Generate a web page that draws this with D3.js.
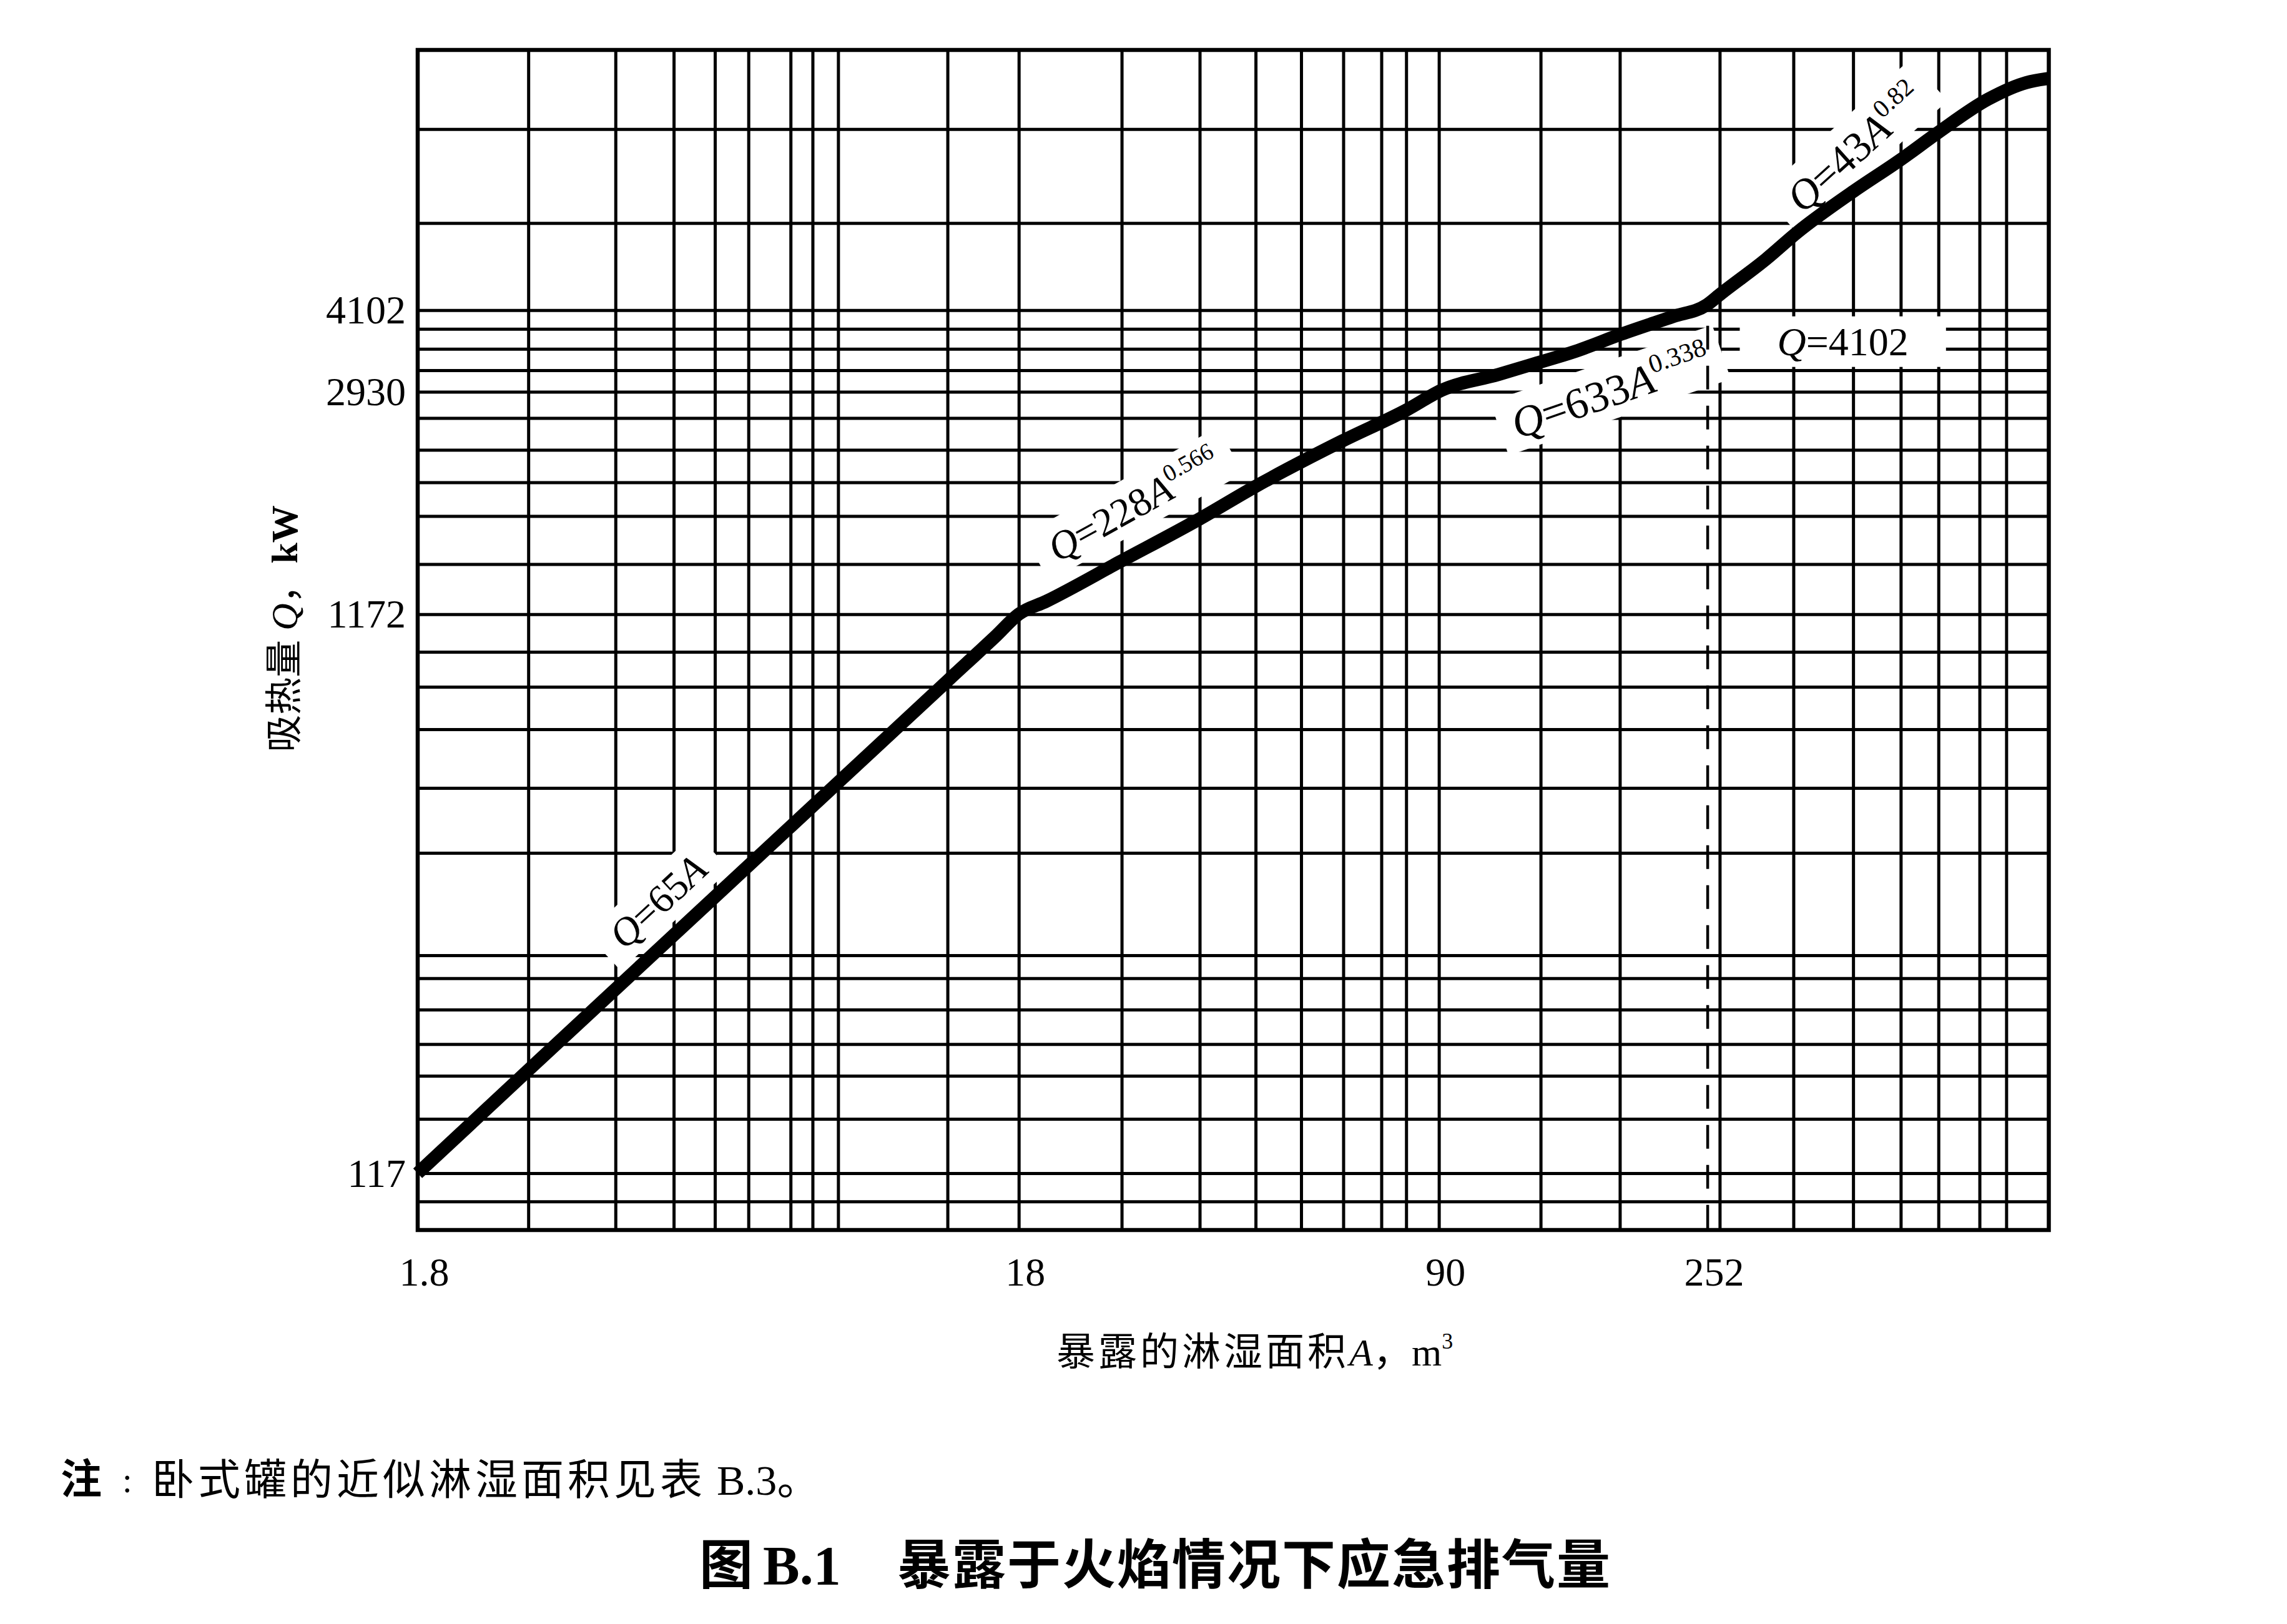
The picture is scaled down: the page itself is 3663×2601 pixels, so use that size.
<!DOCTYPE html>
<html>
<head>
<meta charset="utf-8">
<script src="https://cdn.jsdelivr.net/npm/d3@7/dist/d3.min.js"></script>
<style>
html,body{margin:0;padding:0;background:#fff;}
svg{display:block;}
</style>
</head>
<body>
<svg id="chart" width="3663" height="2601"></svg>
<script>
// ================= DATA =================
// curve: exposed wetted area A vs heat input Q (kW)
const areaA = [1.8, 2.75, 9.0, 13.8, 16.5, 18, 20, 26.5, 36, 44.5, 62.3, 79.5, 91, 113, 131, 151.5, 181, 221, 251, 265, 315, 355, 441, 527, 610, 738, 854, 919, 931];
const heatQ = [117, 179, 585, 897, 1072, 1172, 1236, 1454, 1736, 1982, 2396, 2719, 2950, 3147, 3300, 3460, 3716, 3998, 4190, 4389, 5060, 5650, 6700, 7620, 8540, 9790, 10480, 10640, 10660];

// labelled ticks
const xTickValues = [1.8, 18, 90, 252];
const yTickValues = [117, 1172, 2930, 4102];

// grid lines of the log paper (values)
const xGridValues = [2.75, 3.84, 4.8, 5.62, 6.39, 7.51, 8.17, 9.01, 13.7, 18,
                     26.7, 36, 44.6, 53.1, 62.4, 72.2, 79.4, 90, 132.9, 180,
                     263.9, 350, 440, 528, 610, 714, 791];
const yGridValues = [104.2, 117, 146.4, 174.8, 199.3, 229.7, 261.3, 287.3, 438.2, 572.6,
                     729.4, 869, 1003.6, 1172, 1440, 1756, 2018, 2307, 2630, 2930,
                     3203, 3497, 3798, 4102, 5875, 8653];

// axis extents
const xDomain = [1.8, 931];
const yDomain = [92.6, 11990];

// dashed reference line
const dashA = [252];
const dashQ = [4102];

// equation annotations: text parts + data anchor
const eqTexts = [
  [["Q","i"],["=65",""],["A","i"]],
  [["Q","i"],["=228",""],["A","i"],["0.566","sup"]],
  [["Q","i"],["=633",""],["A","i"],["0.338","sup"]],
  [["Q","i"],["=43",""],["A","i"],["0.82","sup"]],
  [["Q","i"],["=4102",""]]
];
const eqAnchorA = [4.52, 28.0, 174, 444, 423];
const eqAnchorQ = [358, 1835, 2930, 8000, 3600];

// texts
const yTitleParts = [["吸热量 ",""],["Q","i"],["，",""],["kW","b"]];
const xTitleParts = [["暴露的淋湿面积","c"],["A","i"],["，",""],["m","m"],["3","sup"]];
const noteHead = "注";
const noteBody = "卧式罐的近似淋湿面积见表";
const noteRef = " B.3";
const noteEnd = "。";
const titleFig = "图";
const titleNum = "B.1";
const titleText = "暴露于火焰情况下应急排气量";

// ================= DRAWING =================
const W = 3663, H = 2601;
const L = 669, R = 3281.5, T = 80, B = 1970;
const SERIF = "'Liberation Serif','Times New Roman','Noto Sans CJK SC',serif";
const SANS = "'Noto Sans CJK SC','Noto Sans',sans-serif";
const INK = "#000";

const svg = d3.select("#chart");
svg.append("rect").attr("width", W).attr("height", H).attr("fill", "#fff");

const x = d3.scaleLog().domain(xDomain).range([L, R]);
const y = d3.scaleLog().domain(yDomain).range([B, T]);

// layers
const gGrid = svg.append("g");
const gBox = svg.append("g");
const gDash = svg.append("g");
const gBorder = svg.append("g");
const gCurve = svg.append("g");
const gText = svg.append("g");

// vertical grid via axis
const vAxis = gGrid.append("g").attr("transform", `translate(0,${B})`)
  .call(d3.axisBottom(x).tickValues(xGridValues).tickSize(-(B - T)).tickFormat(""));
vAxis.select(".domain").remove();
vAxis.selectAll("line").attr("stroke", INK).attr("stroke-width", 5);

// horizontal grid via axis
const hAxis = gGrid.append("g").attr("transform", `translate(${L},0)`)
  .call(d3.axisLeft(y).tickValues(yGridValues).tickSize(-(R - L)).tickFormat(""));
hAxis.select(".domain").remove();
hAxis.selectAll("line").attr("stroke", INK).attr("stroke-width", 5);

// border
gBorder.append("rect").attr("x", L).attr("y", T).attr("width", R - L).attr("height", B - T)
  .attr("fill", "none").attr("stroke", INK).attr("stroke-width", 6.5);

// dashed line at A = 252
gDash.selectAll("line").data(dashA).join("line")
  .attr("x1", d => x(d)).attr("x2", d => x(d))
  .attr("y1", (d, i) => y(dashQ[i]) + 25).attr("y2", B)
  .attr("stroke", INK).attr("stroke-width", 4.5)
  .attr("stroke-dasharray", "38,26");

// curve
const pts = areaA.map((a, i) => [a, heatQ[i]]);
const line = d3.line().x(d => x(d[0])).y(d => y(d[1])).curve(d3.curveMonotoneX);
gCurve.append("path").attr("d", line(pts)).attr("fill", "none")
  .attr("stroke", INK).attr("stroke-width", 21).attr("stroke-linejoin", "round");

// y tick labels
const yAx = gText.append("g").attr("transform", `translate(${L},0)`)
  .call(d3.axisLeft(y).tickValues(yTickValues).tickSize(0).tickPadding(19).tickFormat(d3.format("d")));
yAx.select(".domain").remove();
yAx.selectAll("text").attr("font-family", SERIF).attr("font-size", 64).attr("fill", INK).attr("dy", "0.33em");

// x tick labels
const xAx = gText.append("g").attr("transform", `translate(0,${B})`)
  .call(d3.axisBottom(x).tickValues(xTickValues).tickSize(0).tickPadding(44).tickFormat(d => String(d)));
xAx.select(".domain").remove();
xAx.selectAll("text").attr("font-family", SERIF).attr("font-size", 64).attr("fill", INK).attr("dx", 10);

// equation labels with white masks
const eqAngles = [-42.8, -29, -19, -42, 0];
const eqPadX = [26, 26, 22, 26, 60];
const eqSize = [64, 64, 70, 68, 64];
eqTexts.forEach((parts, k) => {
  const fs = eqSize[k], sup = fs * 0.6;
  const cx = x(eqAnchorA[k]), cy = y(eqAnchorQ[k]);
  const tr = `translate(${cx},${cy}) rotate(${eqAngles[k]})`;
  const t = gText.append("text").attr("transform", tr).attr("text-anchor", "middle")
    .attr("y", fs * 0.33).attr("font-family", SERIF).attr("font-size", fs).attr("fill", INK);
  parts.forEach(p => {
    const s = t.append("tspan").text(p[0]);
    if (p[1] === "i") s.attr("font-style", "italic");
    if (p[1] === "sup") s.attr("font-size", sup).attr("dy", -fs * 0.42);
  });
  const bb = t.node().getBBox();
  const px = eqPadX[k], py = 9;
  gBox.append("rect").attr("transform", tr)
    .attr("x", bb.x - px).attr("y", bb.y - py + 4)
    .attr("width", bb.width + 2 * px).attr("height", bb.height + 2 * py - 8)
    .attr("fill", "#fff");
});

// y axis title (rotated)
const yt = gText.append("text").attr("transform", "translate(476,1007) rotate(-90)")
  .attr("text-anchor", "middle").attr("font-family", SERIF).attr("font-size", 60).attr("fill", INK);
yTitleParts.forEach(p => {
  const s = yt.append("tspan").text(p[0]);
  if (p[1] === "i") s.attr("font-style", "italic");
  if (p[1] === "b") s.attr("font-weight", "bold").attr("dx", 4);
});

// x axis title
const xt = gText.append("text").attr("x", 1692).attr("y", 2187)
  .attr("font-family", SERIF).attr("font-size", 62).attr("fill", INK);
xTitleParts.forEach(p => {
  const s = xt.append("tspan").text(p[0]);
  if (p[1] === "c") s.attr("letter-spacing", 5);
  if (p[1] === "i") s.attr("font-style", "italic");
  if (p[1] === "sup") s.attr("font-size", 36).attr("dy", -27);
});

// note
gText.append("text").attr("x", 97).attr("y", 2392).attr("font-family", SANS)
  .attr("font-weight", "bold").attr("font-size", 66).attr("fill", INK).text(noteHead);
gText.append("text").attr("x", 196).attr("y", 2390).attr("font-family", SERIF)
  .attr("font-size", 56).attr("fill", INK).text(":");
const nt = gText.append("text").attr("x", 243).attr("y", 2394).attr("font-family", SERIF)
  .attr("font-size", 68).attr("fill", INK);
nt.append("tspan").attr("letter-spacing", 6).text(noteBody);
nt.append("tspan").text(noteRef);
nt.append("tspan").text(noteEnd);

// figure title
const tt = gText.append("text").attr("y", 2537).attr("fill", INK).attr("font-weight", "bold");
tt.append("tspan").attr("x", 1120).attr("font-family", SANS).attr("font-size", 86).text(titleFig);
tt.append("tspan").attr("x", 1222).attr("font-family", SERIF).attr("font-size", 88).text(titleNum);
tt.append("tspan").attr("x", 1437).attr("font-family", SANS).attr("font-size", 86)
  .attr("letter-spacing", 2).text(titleText);
</script>
</body>
</html>
